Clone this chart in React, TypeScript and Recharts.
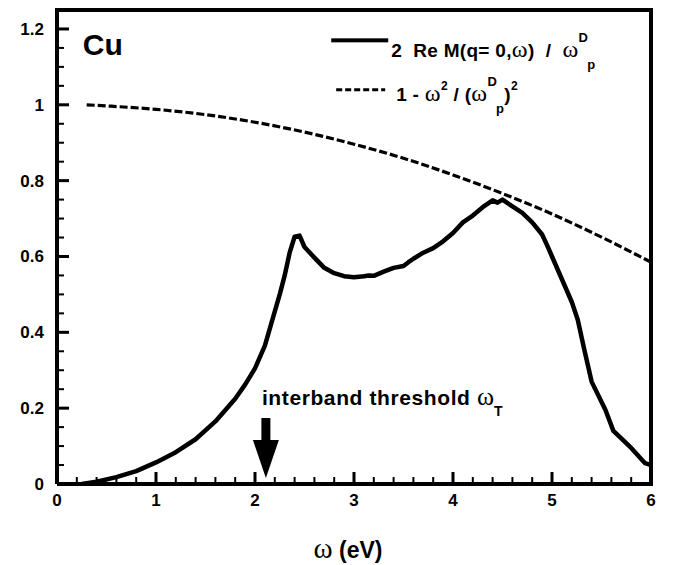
import React from "react";
import {
  LineChart,
  Line,
  XAxis,
  YAxis,
  ReferenceLine,
  ReferenceDot,
} from "recharts";

// 2 Re M(q=0, w) / w_p^D
const solidX = [
  0.25, 0.4, 0.6, 0.8, 1.0, 1.2, 1.4, 1.6, 1.8, 1.9, 2.0, 2.1, 2.2, 2.25, 2.3,
  2.35, 2.4, 2.45, 2.5, 2.6, 2.7, 2.8, 2.9, 3.0, 3.1, 3.15, 3.2, 3.3, 3.4, 3.5,
  3.55, 3.6, 3.7, 3.8, 3.9, 4.0, 4.1, 4.2, 4.3, 4.4, 4.45, 4.5, 4.6, 4.7, 4.8,
  4.9, 4.95, 5.0, 5.1, 5.2, 5.26, 5.33, 5.4, 5.54, 5.62, 5.8, 5.94, 6.0,
];
const solidY = [
  0, 0.006, 0.018, 0.034, 0.057, 0.084, 0.118, 0.165, 0.225, 0.262, 0.305,
  0.365, 0.455, 0.5, 0.55, 0.61, 0.652, 0.655, 0.625, 0.597, 0.57, 0.556, 0.548,
  0.545, 0.548, 0.55, 0.549, 0.56, 0.57, 0.575, 0.585, 0.594, 0.61, 0.622, 0.64,
  0.662, 0.69, 0.708, 0.73, 0.748, 0.742, 0.75, 0.732, 0.715, 0.69, 0.658, 0.63,
  0.6, 0.54, 0.48, 0.433, 0.35, 0.27, 0.195, 0.14, 0.095, 0.055, 0.05,
];

// 1 - w^2 / (w_p^D)^2
const dashX = [0.3, 0.5, 1, 1.5, 2, 2.5, 3, 3.5, 4, 4.5, 5, 5.5, 6];
const dashY = [1.0, 0.997, 0.988, 0.974, 0.954, 0.928, 0.896, 0.859, 0.815, 0.766, 0.712, 0.651, 0.585];

const xMajor = [0, 1, 2, 3, 4, 5, 6];
const xMinor = [0.2, 0.4, 0.6, 0.8];
const yMajor = [0, 0.2, 0.4, 0.6, 0.8, 1, 1.2];
const yMinor = [0.05, 0.1, 0.15];
const xTickLabels = ["0", "1", "2", "3", "4", "5", "6"];
const yTickLabels = ["0", "0.2", "0.4", "0.6", "0.8", "1", "1.2"];

const xDomain = [0, 6];
const yDomain = [0, 1.25];
const thresholdX = 2.11;

const solidData = solidX.map((x, i) => ({ x, y: solidY[i] }));
const dashData = dashX.map((x, i) => ({ x, y: dashY[i] }));

const SANS = "'Liberation Sans', Arial, sans-serif";
const SERIF = "'Liberation Serif', 'Times New Roman', serif";
const INK = "#000";

// major tick + label, with the minor ticks of the following interval
const XTick = (props: any) => {
  const { x, y, payload, width } = props;
  const i = xMajor.indexOf(payload.value);
  const perUnit = (width || 594) / (xDomain[1] - xDomain[0]);
  const last = i === xMajor.length - 1;
  return (
    <g>
      <rect x={x - 1.5} y={y - 12} width={3} height={12} fill={INK} />
      {!last &&
        xMinor.map((d) => (
          <rect key={d} x={x + d * perUnit - 1} y={y - 7} width={2} height={7} fill={INK} />
        ))}
      <text x={x} y={y + 22} textAnchor="middle" fontFamily={SANS} fontWeight="bold" fontSize={17} fill={INK}>
        {xTickLabels[i]}
      </text>
    </g>
  );
};

const YTick = (props: any) => {
  const { x, y, payload, height } = props;
  const i = yMajor.indexOf(payload.value);
  const perUnit = (height || 474) / (yDomain[1] - yDomain[0]);
  const last = i === yMajor.length - 1;
  return (
    <g>
      <rect x={x} y={y - 1.5} width={12} height={3} fill={INK} />
      {!last &&
        yMinor.map((d) => (
          <rect key={d} x={x} y={y - d * perUnit - 1} width={7} height={2} fill={INK} />
        ))}
      <text x={x - 13} y={y + 6} textAnchor="end" fontFamily={SANS} fontWeight="bold" fontSize={17} fill={INK}>
        {yTickLabels[i]}
      </text>
    </g>
  );
};

const Edge = (p: any) => {
  const { x1, y1, x2, y2 } = p;
  return (
    <rect
      x={Math.min(x1, x2) - 2}
      y={Math.min(y1, y2) - 2}
      width={Math.abs(x2 - x1) + 4}
      height={Math.abs(y2 - y1) + 4}
      fill={INK}
    />
  );
};

const Arrow = (p: any) => {
  const { x1, y1, y2 } = p;
  const headTop = y2 - 38;
  return (
    <path
      d={`M${x1 - 4.5},${y1} L${x1 + 4.5},${y1} L${x1 + 4.5},${headTop} L${x1 + 13},${headTop} L${x1},${y2} L${x1 - 13},${headTop} L${x1 - 4.5},${headTop} Z`}
      fill={INK}
    />
  );
};

const ThresholdText = (p: any) => (
  <text x={p.cx} y={p.cy} fontFamily={SANS} fontWeight="bold" fontSize={21} letterSpacing={0.6} fill={INK} style={{ whiteSpace: "pre" }}>
    {"interband threshold "}
    <tspan fontFamily={SERIF} fontWeight="normal" fontSize={26} letterSpacing={0}>ω</tspan>
    <tspan fontSize={14} dy={11}>T</tspan>
  </text>
);

const CuText = (p: any) => (
  <text x={p.cx} y={p.cy} fontFamily={SANS} fontWeight="bold" fontSize={30} fill={INK}>
    Cu
  </text>
);

const LegendSolid = (p: any) => (
  <g>
    <rect x={p.cx} y={p.cy - 2} width={57} height={4} fill={INK} />
    <text x={p.cx + 60} y={p.cy + 17} fontFamily={SANS} fontWeight="bold" fontSize={19} letterSpacing={0.3} fill={INK} style={{ whiteSpace: "pre" }}>
      {"2  Re M(q= 0,"}
      <tspan fontFamily={SERIF} fontWeight="normal" fontSize={24}>ω</tspan>
      {")  /  "}
      <tspan fontFamily={SERIF} fontWeight="normal" fontSize={24}>ω</tspan>
      <tspan fontSize={13} dy={-15}>D</tspan>
      <tspan fontSize={13} dy={27} dx={-1}>p</tspan>
    </text>
  </g>
);

const LegendDashed = (p: any) => (
  <g>
    <path d={`M${p.cx},${p.cy} H${p.cx + 49}`} stroke={INK} strokeWidth={3} strokeDasharray="6 3" fill="none" />
    <text x={p.cx + 60} y={p.cy + 11} fontFamily={SANS} fontWeight="bold" fontSize={19} letterSpacing={0.3} fill={INK} style={{ whiteSpace: "pre" }}>
      {"1 - "}
      <tspan fontFamily={SERIF} fontWeight="normal" fontSize={24}>ω</tspan>
      <tspan fontSize={12} dy={-11}>2</tspan>
      <tspan dy={11}>{" / ("}</tspan>
      <tspan fontFamily={SERIF} fontWeight="normal" fontSize={24}>ω</tspan>
      <tspan fontSize={13} dy={-15}>D</tspan>
      <tspan fontSize={13} dy={27} dx={-1}>p</tspan>
      <tspan dy={-12}>)</tspan>
      <tspan fontSize={12} dy={-11}>2</tspan>
    </text>
  </g>
);

const AxisTitle = (p: any) => (
  <text x={p.cx} y={p.cy} textAnchor="middle" fontFamily={SANS} fontWeight="bold" fontSize={23} fill={INK} style={{ whiteSpace: "pre" }}>
    <tspan fontFamily={SERIF} fontWeight="normal" fontSize={29}>ω</tspan>
    {" (eV)"}
  </text>
);

export default function App() {
  return (
    <div style={{ position: "relative", width: 665, height: 557 }}>
      <LineChart width={665} height={557} margin={{ top: 2, right: 22, bottom: 0, left: 0 }}>
        <XAxis
          type="number"
          dataKey="x"
          domain={xDomain}
          ticks={xMajor}
          interval={0}
          tickSize={0}
          tickMargin={0}
          axisLine={{ stroke: INK, strokeWidth: 4 }}
          tickLine={false}
          tick={XTick}
          height={81}
          allowDataOverflow
        />
        <YAxis
          type="number"
          dataKey="y"
          domain={yDomain}
          ticks={yMajor}
          interval={0}
          tickSize={0}
          tickMargin={0}
          axisLine={{ stroke: INK, strokeWidth: 4 }}
          tickLine={false}
          tick={YTick}
          width={49}
          allowDataOverflow
        />
        <ReferenceLine ifOverflow="visible" segment={[{ x: 0, y: 1.25 }, { x: 6, y: 1.25 }]} shape={Edge} />
        <ReferenceLine ifOverflow="visible" segment={[{ x: 6, y: 0 }, { x: 6, y: 1.25 }]} shape={Edge} />
        <Line
          data={dashData}
          dataKey="y"
          type="monotone"
          stroke={INK}
          strokeWidth={3.2}
          strokeDasharray="8 3"
          dot={false}
          isAnimationActive={false}
        />
        <Line
          data={solidData}
          dataKey="y"
          type="linear"
          stroke={INK}
          strokeWidth={4.5}
          strokeLinejoin="round"
          dot={false}
          isAnimationActive={false}
        />
        <ReferenceLine
          segment={[
            { x: thresholdX, y: 0.174 },
            { x: thresholdX, y: 0.016 },
          ]}
          shape={Arrow}
        />
        <ReferenceDot x={2.07} y={0.208} r={0} shape={ThresholdText} />
        <ReferenceDot x={0.26} y={1.132} r={0} shape={CuText} />
        <ReferenceDot x={2.77} y={1.17} r={0} shape={LegendSolid} />
        <ReferenceDot x={2.82} y={1.04} r={0} shape={LegendDashed} />
        <ReferenceDot x={2.94} y={-0.195} r={0} ifOverflow="visible" shape={AxisTitle} />
      </LineChart>
    </div>
  );
}
